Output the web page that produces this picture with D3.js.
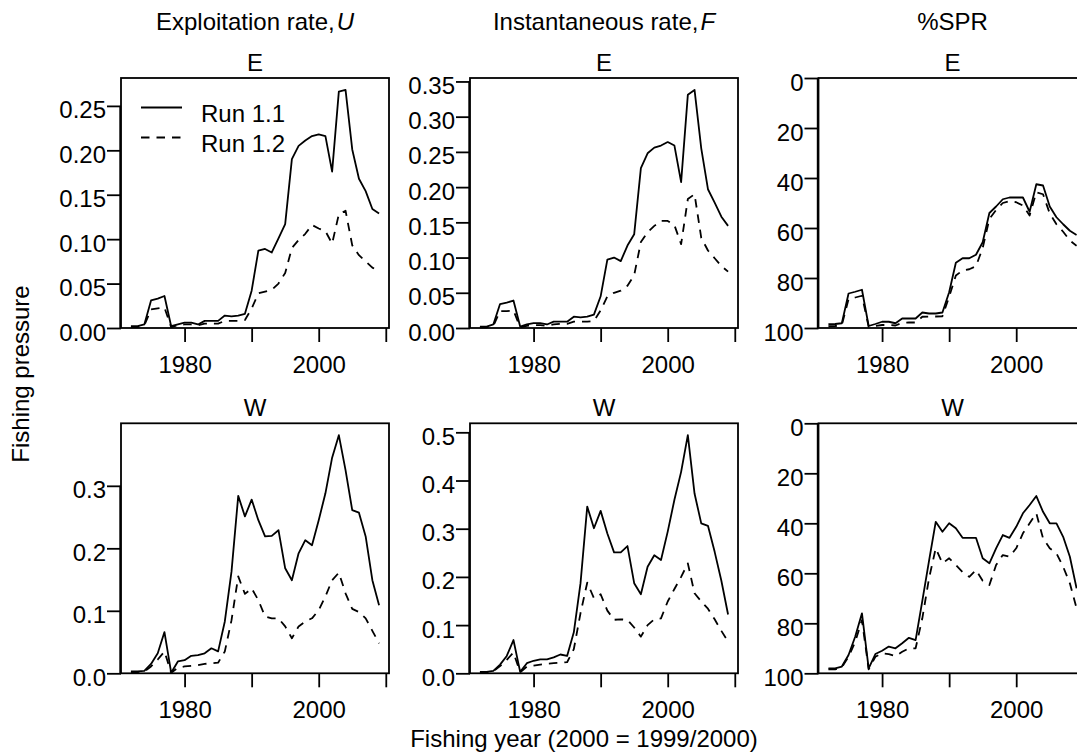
<!DOCTYPE html>
<html>
<head>
<meta charset="utf-8">
<script src="https://cdn.jsdelivr.net/npm/d3@7"></script>
<style>
  body { margin: 0; background: #fff; }
  text { font-family: "Liberation Sans", Arial, sans-serif; fill: #000; }
</style>
</head>
<body>
<div id="chart"></div>
<script>
// fishing years (2000 = 1999/2000)
var years = [1972, 1973, 1974, 1975, 1976, 1977, 1978, 1979, 1980, 1981,
             1982, 1983, 1984, 1985, 1986, 1987, 1988, 1989, 1990, 1991,
             1992, 1993, 1994, 1995, 1996, 1997, 1998, 1999, 2000, 2001,
             2002, 2003, 2004, 2005, 2006, 2007, 2008, 2009];

// exploitation rate U, east
var uE11 = [0.002, 0.002, 0.004, 0.031, 0.033, 0.036, 0.002, 0.004, 0.006, 0.006,
            0.004, 0.008, 0.008, 0.008, 0.014, 0.013, 0.014, 0.016, 0.042, 0.087,
            0.089, 0.085, 0.101, 0.117, 0.190, 0.205, 0.211, 0.216, 0.218, 0.216,
            0.176, 0.266, 0.268, 0.201, 0.168, 0.154, 0.134, 0.129];
var uE12 = [0.001, 0.001, 0.003, 0.021, 0.022, 0.023, 0.001, 0.003, 0.004, 0.004,
            0.003, 0.005, 0.005, 0.005, 0.008, 0.008, 0.008, 0.009, 0.022, 0.039,
            0.041, 0.043, 0.050, 0.062, 0.090, 0.099, 0.106, 0.116, 0.112, 0.109,
            0.095, 0.128, 0.132, 0.093, 0.082, 0.075, 0.068, 0.064];
// instantaneous rate F, east
var fE11 = [0.002, 0.002, 0.005, 0.034, 0.036, 0.039, 0.002, 0.005, 0.007, 0.007,
            0.005, 0.009, 0.009, 0.009, 0.016, 0.015, 0.016, 0.019, 0.045, 0.097,
            0.100, 0.095, 0.117, 0.133, 0.227, 0.248, 0.256, 0.259, 0.264, 0.259,
            0.207, 0.331, 0.338, 0.255, 0.197, 0.178, 0.158, 0.145];
var fE12 = [0.001, 0.001, 0.003, 0.024, 0.024, 0.025, 0.001, 0.003, 0.004, 0.004,
            0.003, 0.005, 0.006, 0.006, 0.009, 0.009, 0.009, 0.010, 0.025, 0.045,
            0.050, 0.053, 0.060, 0.075, 0.122, 0.136, 0.145, 0.152, 0.152, 0.146,
            0.119, 0.183, 0.190, 0.128, 0.110, 0.099, 0.088, 0.080];
// %SPR, east
var sprE11 = [98.5, 98.4, 98.1, 86.2, 85.5, 84.7, 99.2, 98.4, 97.5, 97.5,
              98.1, 96.2, 96.2, 96.2, 93.8, 94.2, 94.2, 93.8, 85.7, 73.9,
              72.1, 72.1, 70.7, 65.7, 54.0, 51.4, 48.5, 47.8, 47.8, 47.8,
              53.5, 42.5, 43.0, 51.4, 55.7, 58.5, 61.1, 62.8];
var sprE12 = [99.3, 99.2, 98.8, 88.5, 87.8, 87.1, 99.5, 99.2, 98.8, 98.8,
              99.0, 97.9, 97.8, 97.8, 95.5, 95.4, 95.4, 95.3, 87.5, 79.0,
              77.0, 76.5, 75.3, 68.0, 56.4, 52.8, 50.0, 49.2, 49.7, 51.0,
              55.0, 45.7, 46.5, 54.2, 58.5, 61.5, 65.0, 67.1];

// exploitation rate U, west
var uW11 = [0.003, 0.003, 0.004, 0.015, 0.032, 0.066, 0.001, 0.019, 0.021, 0.028,
            0.029, 0.032, 0.040, 0.035, 0.083, 0.163, 0.284, 0.251, 0.278, 0.245,
            0.219, 0.220, 0.229, 0.168, 0.149, 0.192, 0.213, 0.205, 0.245, 0.288,
            0.345, 0.381, 0.325, 0.261, 0.257, 0.219, 0.149, 0.109];
var uW12 = [0.002, 0.002, 0.003, 0.011, 0.022, 0.035, 0.001, 0.009, 0.011, 0.012,
            0.013, 0.015, 0.016, 0.017, 0.035, 0.085, 0.155, 0.127, 0.136, 0.117,
            0.091, 0.088, 0.088, 0.075, 0.056, 0.075, 0.083, 0.088, 0.101, 0.123,
            0.149, 0.161, 0.128, 0.103, 0.098, 0.088, 0.068, 0.048];
// instantaneous rate F, west
var fW11 = [0.003, 0.003, 0.005, 0.018, 0.036, 0.069, 0.003, 0.021, 0.026, 0.029,
            0.029, 0.033, 0.039, 0.036, 0.085, 0.187, 0.346, 0.301, 0.337, 0.290,
            0.251, 0.251, 0.264, 0.187, 0.164, 0.221, 0.245, 0.235, 0.294, 0.360,
            0.418, 0.494, 0.373, 0.311, 0.306, 0.252, 0.192, 0.122];
var fW12 = [0.002, 0.002, 0.004, 0.015, 0.028, 0.043, 0.002, 0.014, 0.016, 0.018,
            0.020, 0.021, 0.022, 0.023, 0.050, 0.125, 0.188, 0.156, 0.164, 0.130,
            0.111, 0.112, 0.111, 0.095, 0.076, 0.100, 0.112, 0.114, 0.149, 0.175,
            0.200, 0.228, 0.166, 0.149, 0.134, 0.112, 0.088, 0.066];
// %SPR, west
var sprW11 = [98.0, 98.0, 97.3, 92.7, 85.3, 76.0, 98.0, 92.3, 91.0, 89.3,
              90.0, 88.0, 85.8, 86.7, 71.0, 55.0, 39.4, 43.4, 40.0, 42.0,
              45.8, 45.8, 45.8, 54.0, 56.0, 50.0, 44.7, 45.8, 41.4, 36.0,
              32.7, 29.1, 35.4, 40.0, 40.0, 45.4, 53.4, 66.0];
var sprW12 = [98.4, 98.4, 97.6, 93.4, 87.4, 78.7, 98.4, 93.4, 92.0, 92.3,
              93.1, 91.4, 90.0, 90.0, 78.0, 62.0, 50.0, 56.0, 54.0, 56.7,
              59.5, 61.4, 58.7, 63.0, 64.7, 56.7, 52.7, 53.4, 50.0, 44.0,
              40.0, 36.0, 46.0, 50.0, 52.0, 57.4, 64.0, 74.0];

// axis ticks
var xTicks = [1980, 1990, 2000, 2010];
var xTickLabels = ["1980", "", "2000", ""];
var uETicks = [0, 0.05, 0.10, 0.15, 0.20, 0.25];
var fETicks = [0, 0.05, 0.10, 0.15, 0.20, 0.25, 0.30, 0.35];
var uWTicks = [0, 0.1, 0.2, 0.3];
var fWTicks = [0, 0.1, 0.2, 0.3, 0.4, 0.5];
var sprTicks = [0, 20, 40, 60, 80, 100];

var colTitles = ["Exploitation rate,", "Instantaneous rate,", "%SPR"];
var colTitleItalic = ["U", "F", ""];
var rowLabels = ["E", "W"];
var runNames = ["Run 1.1", "Run 1.2"];

drawFishingPressure("#chart", 1077, 756);

function drawFishingPressure(divId, width, height) {
    var colLeft = [121, 470, 818.5],
        rowTop = [78, 423.3],
        pw = 268, ph = 250,
        tickLen = 14,
        fontSize = 24,
        lw = 1.8,
        dash = "8.5,7";

    var svg = d3.select(divId).append("svg")
        .attr("width", width)
        .attr("height", height)
        .style("display", "block");

    var panels = [
        {row: 0, col: 0, a: uE11, b: uE12, ticks: uETicks, fmt: d3.format(".2f"), spr: false, legend: true},
        {row: 0, col: 1, a: fE11, b: fE12, ticks: fETicks, fmt: d3.format(".2f"), spr: false},
        {row: 0, col: 2, a: sprE11, b: sprE12, ticks: sprTicks, fmt: d3.format("d"), spr: true},
        {row: 1, col: 0, a: uW11, b: uW12, ticks: uWTicks, fmt: d3.format(".1f"), spr: false},
        {row: 1, col: 1, a: fW11, b: fW12, ticks: fWTicks, fmt: d3.format(".1f"), spr: false},
        {row: 1, col: 2, a: sprW11, b: sprW12, ticks: sprTicks, fmt: d3.format("d"), spr: true}
    ];

    panels.forEach(function(p) {
        var left = colLeft[p.col], top = rowTop[p.row];

        // R-style 4% padding on the year range
        var span = d3.max(years) - d3.min(years);
        var x = d3.scaleLinear()
            .domain([d3.min(years) - span * 0.04, d3.max(years) + span * 0.04])
            .range([left, left + pw]);

        var y = d3.scaleLinear().range([top + ph, top]);
        if (p.spr) {
            y.domain([100, 0]);
        } else {
            y.domain([0, 1.05 * d3.max(p.a.concat(p.b))]);
        }

        var g = svg.append("g");

        var line = d3.line()
            .x(function(d, i) { return x(years[i]); })
            .y(function(d) { return y(d); });

        g.append("path")
            .datum(p.a)
            .attr("d", line)
            .attr("fill", "none")
            .attr("stroke", "#000")
            .attr("stroke-width", lw)
            .attr("stroke-linejoin", "round");

        g.append("path")
            .datum(p.b)
            .attr("d", line)
            .attr("fill", "none")
            .attr("stroke", "#000")
            .attr("stroke-width", lw)
            .attr("stroke-dasharray", dash)
            .attr("stroke-linejoin", "round");

        g.append("rect")
            .attr("x", left).attr("y", top)
            .attr("width", pw).attr("height", ph)
            .attr("fill", "none")
            .attr("stroke", "#000")
            .attr("stroke-width", lw);

        var yAxis = g.append("g")
            .attr("transform", "translate(" + left + ",0)")
            .call(d3.axisLeft(y).tickValues(p.ticks).tickSize(tickLen).tickPadding(1).tickFormat(p.fmt));
        yAxis.select(".domain").remove();
        yAxis.selectAll("line").attr("stroke-width", lw);
        yAxis.selectAll("text")
            .attr("dy", "0.5em")
            .style("font-size", fontSize + "px")
            .style("font-family", "'Liberation Sans', Arial, sans-serif");
        // axis line over the box edge, first to last tick (as R draws it)
        g.append("line")
            .attr("x1", left - 0.8).attr("x2", left - 0.8)
            .attr("y1", y(p.ticks[0])).attr("y2", y(p.ticks[p.ticks.length - 1]))
            .attr("stroke", "#000")
            .attr("stroke-width", lw);

        var xAxis = g.append("g")
            .attr("transform", "translate(0," + (top + ph) + ")")
            .call(d3.axisBottom(x).tickValues(xTicks).tickSize(tickLen).tickPadding(14)
                .tickFormat(function(d, i) { return xTickLabels[i]; }));
        xAxis.select(".domain").remove();
        xAxis.selectAll("line").attr("stroke-width", lw);
        xAxis.selectAll("text")
            .style("font-size", fontSize + "px")
            .style("font-family", "'Liberation Sans', Arial, sans-serif");

        // E / W label
        g.append("text")
            .attr("x", left + pw / 2)
            .attr("y", top - 7)
            .attr("text-anchor", "middle")
            .style("font-size", fontSize + "px")
            .text(rowLabels[p.row]);

        if (p.legend) {
            var leg = g.append("g");
            runNames.forEach(function(name, i) {
                var ly = top + 29.5 + i * 30;
                leg.append("line")
                    .attr("x1", left + 20).attr("x2", left + 61)
                    .attr("y1", ly).attr("y2", ly)
                    .attr("stroke", "#000")
                    .attr("stroke-width", lw)
                    .attr("stroke-dasharray", i ? dash : null);
                leg.append("text")
                    .attr("x", left + 80)
                    .attr("y", ly + 14)
                    .style("font-size", fontSize + "px")
                    .text(name);
            });
        }
    });

    // column titles
    colTitles.forEach(function(t, c) {
        var txt = svg.append("text")
            .attr("x", colLeft[c] + pw / 2)
            .attr("y", 30)
            .attr("text-anchor", "middle")
            .style("font-size", fontSize + "px")
            .text(t);
        if (colTitleItalic[c]) {
            txt.append("tspan")
                .attr("dx", 2)
                .style("font-style", "italic")
                .text(colTitleItalic[c]);
        }
    });

    svg.append("text")
        .attr("x", 584)
        .attr("y", 747)
        .attr("text-anchor", "middle")
        .style("font-size", fontSize + "px")
        .text("Fishing year (2000 = 1999/2000)");

    svg.append("text")
        .attr("transform", "translate(29,374) rotate(-90)")
        .attr("text-anchor", "middle")
        .style("font-size", fontSize + "px")
        .text("Fishing pressure");
}
</script>
</body>
</html>
